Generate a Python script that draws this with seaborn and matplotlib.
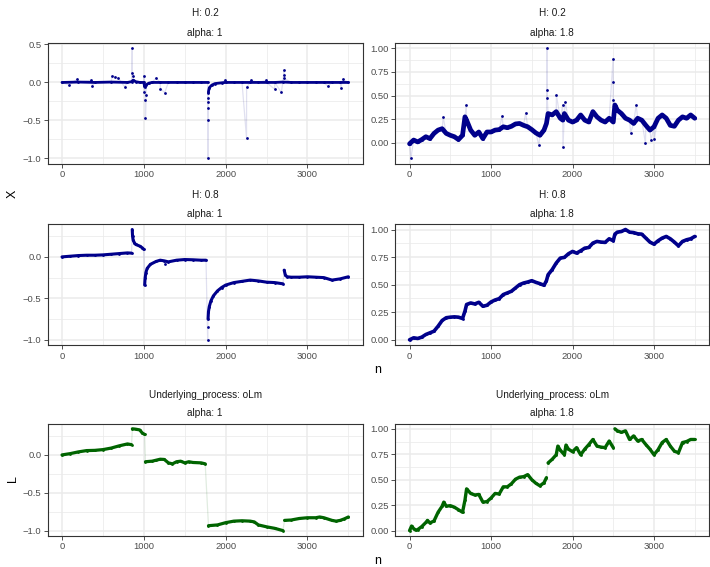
import numpy as np
import pandas as pd
import matplotlib
matplotlib.use("Agg")
import matplotlib.pyplot as plt
import seaborn as sns
from matplotlib.ticker import FuncFormatter, FixedLocator

sns.set_theme(style="white")
plt.rcParams['font.family'] = ['Liberation Sans', 'DejaVu Sans']

BLUE = "#00008B"
GREEN = "#006400"

# ---- H: 0.2, alpha: 1 ----
h02_a1_n = [0, 200, 400, 600, 800, 850, 870, 900, 950, 1000, 1010, 1030, 1060, 1100, 1200,
            1300, 1400, 1500, 1600, 1700, 1780,
            1790, 1800, 1830, 1870, 1950, 2000, 2100, 2200, 2300, 2400, 2500, 2600, 2700,
            2800, 2900, 3000, 3100, 3200, 3300, 3400, 3500]
h02_a1_v = [0.0, 0.005, 0.0, 0.005, 0.0, 0.01, 0.03, 0.01, 0.0, 0.0, -0.06, -0.03, -0.01, 0.0, 0.0,
            0.0, 0.0, 0.0, 0.0, 0.0, 0.0,
            -0.12, -0.07, -0.035, -0.015, -0.005, 0.0, 0.0, 0.0, 0.0, 0.0, 0.0, 0.0, 0.005,
            0.0, 0.0, 0.0, 0.0, 0.0, 0.0, 0.0, 0.0]
h02_a1_breaks = [1785]
h02_a1_out_n = [89, 182, 360, 372, 615, 648, 688, 765, 858, 860, 866, 1000, 1008, 1020, 1020, 1028,
                1150, 1202, 1255, 1785, 1785, 1786, 1787, 1788, 1789, 1992, 2255, 2256, 2304,
                2498, 2599, 2680, 2713, 2714, 2716, 3247, 3409, 3429]
h02_a1_out_v = [-0.035, 0.04, 0.03, -0.045, 0.09, 0.075, 0.057, -0.057, 0.45, 0.13, 0.085, 0.09,
                -0.13, -0.23, -0.47, -0.17, 0.06, -0.08, -0.135, -1.0, -0.5, -0.33, -0.255, -0.21,
                -0.145, 0.03, -0.73, -0.06, 0.03, 0.03, -0.09, -0.13, 0.165, 0.10, 0.055, -0.05,
                -0.07, 0.045]

# ---- H: 0.2, alpha: 1.8 ----
h02_a18_n = [0, 50, 100, 150, 200, 250, 300, 350, 400, 450, 500, 550, 600, 650, 680, 700, 750,
             800, 850, 900, 950, 1000, 1050, 1100, 1150, 1200, 1250, 1300, 1350, 1400, 1450,
             1500, 1550, 1600, 1650, 1680, 1700, 1750, 1800, 1850, 1880, 1900, 1950, 2000,
             2050, 2100, 2150, 2200, 2250, 2300, 2350, 2400, 2450, 2500, 2520, 2550, 2600,
             2650, 2700, 2750, 2800, 2850, 2900, 2950, 3000, 3050, 3100, 3150, 3200, 3250,
             3300, 3350, 3400, 3450, 3500]
h02_a18_v = [-0.01, 0.03, 0.01, 0.035, 0.065, 0.045, 0.10, 0.135, 0.15, 0.10, 0.08, 0.065, 0.035,
             0.08, 0.275, 0.24, 0.135, 0.08, 0.115, 0.045, 0.115, 0.115, 0.135, 0.14, 0.17, 0.16,
             0.175, 0.20, 0.205, 0.185, 0.17, 0.14, 0.105, 0.08, 0.135, 0.205, 0.31, 0.295,
             0.33, 0.26, 0.24, 0.31, 0.24, 0.22, 0.24, 0.295, 0.24, 0.22, 0.33, 0.275, 0.24,
             0.22, 0.26, 0.22, 0.40, 0.345, 0.31, 0.26, 0.24, 0.205, 0.26, 0.24, 0.185, 0.135,
             0.17, 0.26, 0.295, 0.26, 0.185, 0.175, 0.24, 0.275, 0.26, 0.295, 0.26]
h02_a18_breaks = []
h02_a18_out_n = [16, 413, 696, 1134, 1425, 1587, 1688, 1689, 1690, 1802, 1879, 1883, 1911,
                 2498, 2499, 2500, 2713, 2781, 2895, 2964, 3004]
h02_a18_out_v = [-0.165, 0.27, 0.40, 0.28, 0.32, -0.025, 1.0, 0.56, 0.47, 0.505, 0.40, -0.04,
                 0.435, 0.89, 0.645, 0.45, 0.105, 0.40, -0.005, 0.03, 0.045]

# ---- H: 0.8, alpha: 1 ----
h08_a1_n = [0, 100, 200, 300, 400, 500, 600, 700, 800, 850,
            858, 862, 870, 885, 900, 950, 980, 1000,
            1010, 1015, 1025, 1040, 1080, 1150, 1200, 1250, 1300, 1400, 1500, 1600, 1700, 1760,
            1785, 1790, 1800, 1820, 1850, 1900, 1950, 2000, 2100, 2200, 2300, 2400, 2500, 2600, 2700,
            2715, 2730, 2750, 2800, 2900, 3000, 3100, 3200, 3300, 3400, 3500]
h08_a1_v = [0.0, 0.008, 0.016, 0.02, 0.02, 0.024, 0.032, 0.04, 0.048, 0.045,
            0.33, 0.25, 0.20, 0.17, 0.15, 0.13, 0.11, 0.09,
            -0.34, -0.26, -0.19, -0.14, -0.09, -0.055, -0.04, -0.048, -0.06, -0.04, -0.032,
            -0.035, -0.04, -0.04,
            -0.75, -0.66, -0.60, -0.53, -0.47, -0.41, -0.37, -0.34, -0.31, -0.295, -0.28, -0.29,
            -0.305, -0.31, -0.325,
            -0.16, -0.22, -0.24, -0.245, -0.245, -0.24, -0.245, -0.25, -0.28, -0.265, -0.24]
h08_a1_breaks = [855, 1005, 1770, 2710]
h08_a1_out_n = [1255, 1780, 1782]
h08_a1_out_v = [-0.09, -1.0, -0.85]

# ---- H: 0.8, alpha: 1.8 ----
h08_a18_n = [0, 50, 100, 150, 200, 250, 300, 350, 400, 450, 500, 550, 600, 650, 680, 700, 750,
             800, 850, 900, 950, 1000, 1050, 1100, 1150, 1200, 1250, 1300, 1350, 1400, 1450,
             1500, 1550, 1600, 1650, 1680, 1700, 1750, 1800, 1850, 1900, 1950, 2000, 2050,
             2100, 2150, 2200, 2250, 2300, 2350, 2400, 2450, 2500, 2520, 2550, 2600, 2650,
             2700, 2750, 2800, 2850, 2900, 2950, 3000, 3050, 3100, 3150, 3200, 3250, 3300,
             3350, 3400, 3450, 3500]
h08_a18_v = [0.0, 0.018, 0.012, 0.024, 0.048, 0.063, 0.078, 0.123, 0.175, 0.20, 0.205, 0.208,
             0.205, 0.193, 0.26, 0.32, 0.334, 0.325, 0.34, 0.304, 0.313, 0.343, 0.361, 0.373,
             0.41, 0.425, 0.44, 0.47, 0.50, 0.515, 0.524, 0.536, 0.521, 0.509, 0.494, 0.536,
             0.59, 0.636, 0.696, 0.741, 0.747, 0.78, 0.801, 0.786, 0.807, 0.831, 0.837, 0.877,
             0.892, 0.886, 0.883, 0.916, 0.898, 0.958, 0.976, 0.982, 1.0, 0.976, 0.972, 0.961,
             0.958, 0.922, 0.886, 0.867, 0.898, 0.922, 0.937, 0.916, 0.886, 0.852, 0.892,
             0.907, 0.916, 0.937]
h08_a18_breaks = []
h08_a18_out_n = []
h08_a18_out_v = []

# ---- Underlying_process: oLm, alpha: 1 ----
olm_a1_n = [0, 100, 200, 300, 400, 500, 600, 700, 800, 850,
            860, 900, 950, 980, 1010,
            1020, 1100, 1150, 1200, 1250, 1300, 1350, 1400, 1450, 1500, 1550, 1600, 1700, 1750,
            1790, 1900, 2000, 2100, 2200, 2300, 2350, 2400, 2500, 2600, 2700,
            2720, 2800, 2900, 3000, 3100, 3150, 3200, 3300, 3350, 3400, 3450, 3500]
olm_a1_v = [0.0, 0.017, 0.04, 0.057, 0.06, 0.07, 0.09, 0.12, 0.145, 0.135,
            0.345, 0.34, 0.33, 0.29, 0.27,
            -0.09, -0.083, -0.07, -0.057, -0.06, -0.105, -0.118, -0.09, -0.083, -0.105, -0.09,
            -0.10, -0.105, -0.118,
            -0.935, -0.925, -0.895, -0.875, -0.87, -0.875, -0.885, -0.925, -0.95, -0.97, -1.0,
            -0.865, -0.86, -0.84, -0.83, -0.83, -0.82, -0.83, -0.865, -0.875, -0.865, -0.845, -0.82]
olm_a1_breaks = [855, 1015, 1770, 2710]

# ---- Underlying_process: oLm, alpha: 1.8 ----
olm_a18_n = [0, 25, 50, 75, 100, 150, 200, 220, 250, 300, 350, 400, 420, 450, 500, 550, 600,
             650, 680, 700, 750, 800, 850, 900, 950, 1000, 1050, 1100, 1150, 1200, 1250, 1300,
             1350, 1400, 1450, 1500, 1550, 1600, 1650, 1680,
             1700, 1750, 1800, 1820, 1850, 1900, 1920, 1950, 2000, 2050, 2100, 2150, 2200,
             2250, 2300, 2350, 2400, 2450, 2500,
             2520, 2550, 2600, 2650, 2700, 2750, 2800, 2850, 2900, 2950, 3000, 3050, 3100,
             3150, 3200, 3250, 3300, 3350, 3400, 3450, 3500]
olm_a18_v = [0.0, 0.045, 0.02, 0.005, 0.01, 0.04, 0.08, 0.10, 0.075, 0.095, 0.18, 0.24, 0.28,
             0.24, 0.245, 0.23, 0.205, 0.18, 0.30, 0.41, 0.365, 0.35, 0.355, 0.28, 0.285, 0.32,
             0.365, 0.36, 0.43, 0.43, 0.46, 0.505, 0.525, 0.53, 0.55, 0.50, 0.465, 0.44, 0.47,
             0.52,
             0.665, 0.70, 0.745, 0.83, 0.79, 0.745, 0.84, 0.80, 0.775, 0.815, 0.745, 0.80,
             0.845, 0.895, 0.83, 0.82, 0.815, 0.88, 0.815,
             1.0, 0.98, 0.965, 0.98, 0.895, 0.93, 0.88, 0.895, 0.845, 0.80, 0.745, 0.795,
             0.865, 0.895, 0.83, 0.78, 0.765, 0.865, 0.875, 0.895, 0.895]
olm_a18_breaks = [1690, 2510]


def minus(v, fmt):
    return (fmt % v).replace('-', '\u2212')


def draw_panel(ax, n, v, breaks, out_n, out_v, color, lw, yticks, fmt):
    body = pd.DataFrame({'n': n, 'v': v})
    body['seg'] = np.searchsorted(breaks, body['n']) if breaks else 0
    extra = pd.DataFrame({'n': out_n, 'v': out_v}, dtype=float)
    pts = pd.concat([body[['n', 'v']], extra]).sort_values('n', kind='stable')

    # faint connecting line through every point, thick body, then the dots
    sns.lineplot(data=pts, x='n', y='v', color=color, alpha=0.12, lw=0.9,
                 sort=False, estimator=None, ax=ax)
    sns.lineplot(data=body, x='n', y='v', units='seg', estimator=None, color=color,
                 lw=lw, ax=ax)
    sns.scatterplot(data=pts, x='n', y='v', color=color, s=4, linewidth=0, ax=ax)

    ax.set_xlabel('')
    ax.set_ylabel('')
    ax.set_facecolor('white')
    ax.xaxis.set_major_locator(FixedLocator([0, 1000, 2000, 3000]))
    ax.xaxis.set_minor_locator(FixedLocator([500, 1500, 2500, 3500]))
    step = yticks[1] - yticks[0]
    ax.yaxis.set_major_locator(FixedLocator(yticks))
    ax.yaxis.set_minor_locator(FixedLocator(np.arange(yticks[0] - step / 2, yticks[-1] + step, step)))
    ax.xaxis.set_major_formatter(FuncFormatter(lambda x, p: '%d' % x))
    ax.yaxis.set_major_formatter(FuncFormatter(lambda x, p: minus(x, fmt)))
    ax.grid(which='major', color='#EBEBEB', lw=1.1)
    ax.grid(which='minor', color='#EBEBEB', lw=0.55)
    ax.set_axisbelow(True)
    ax.tick_params(which='major', length=2.6, width=0.6, color='#333333', labelsize=6.8,
                   labelcolor='#4D4D4D', pad=2, bottom=True, left=True)
    ax.tick_params(which='minor', length=0)
    for s in ax.spines.values():
        s.set_color('#333333')
        s.set_linewidth(0.8)
    ax.margins(x=0.05, y=0.05)


W, H = 710, 567
fig = plt.figure(figsize=(W / 100, H / 100), dpi=100)


def add_ax(x0, x1, y0, y1):
    return fig.add_axes([x0 / W, 1 - y1 / H, (x1 - x0) / W, (y1 - y0) / H])


cols = [(47.7, 362.7), (395.3, 709)]
rows = [(42.7, 164), (224, 345.3), (423.7, 535.7)]

ax = add_ax(*cols[0], *rows[0])
draw_panel(ax, h02_a1_n, h02_a1_v, h02_a1_breaks, h02_a1_out_n, h02_a1_out_v, BLUE, 2.0,
           [-1.0, -0.5, 0.0, 0.5], '%.1f')
ax = add_ax(*cols[1], *rows[0])
draw_panel(ax, h02_a18_n, h02_a18_v, h02_a18_breaks, h02_a18_out_n, h02_a18_out_v, BLUE, 3.4,
           [0.0, 0.25, 0.5, 0.75, 1.0], '%.2f')
ax = add_ax(*cols[0], *rows[1])
draw_panel(ax, h08_a1_n, h08_a1_v, h08_a1_breaks, h08_a1_out_n, h08_a1_out_v, BLUE, 2.2,
           [-1.0, -0.5, 0.0], '%.1f')
ax = add_ax(*cols[1], *rows[1])
draw_panel(ax, h08_a18_n, h08_a18_v, h08_a18_breaks, h08_a18_out_n, h08_a18_out_v, BLUE, 2.6,
           [0.0, 0.25, 0.5, 0.75, 1.0], '%.2f')
ax = add_ax(*cols[0], *rows[2])
draw_panel(ax, olm_a1_n, olm_a1_v, olm_a1_breaks, [], [], GREEN, 2.3,
           [-1.0, -0.5, 0.0], '%.1f')
ax = add_ax(*cols[1], *rows[2])
draw_panel(ax, olm_a18_n, olm_a18_v, olm_a18_breaks, [], [], GREEN, 2.4,
           [0.0, 0.25, 0.5, 0.75, 1.0], '%.2f')

# strip labels
strip = dict(ha='center', va='center', fontsize=7.2, color='#1A1A1A')
centers = [(c[0] + c[1]) / 2 for c in cols]
for cx, a in zip(centers, ['1', '1.8']):
    fig.text(cx / W, 1 - 12.7 / H, 'H: 0.2', **strip)
    fig.text(cx / W, 1 - 32.7 / H, 'alpha: ' + a, **strip)
    fig.text(cx / W, 1 - 195 / H, 'H: 0.8', **strip)
    fig.text(cx / W, 1 - 214.3 / H, 'alpha: ' + a, **strip)
    fig.text(cx / W, 1 - 395 / H, 'Underlying_process: oLm', **strip)
    fig.text(cx / W, 1 - 413.3 / H, 'alpha: ' + a, **strip)

# axis titles
title = dict(ha='center', va='center', fontsize=9, color='black')
fig.text(12.7 / W, 1 - 194 / H, 'X', rotation=90, **title)
fig.text(378 / W, 1 - 370 / H, 'n', **title)
fig.text(13 / W, 1 - 479 / H, 'L', rotation=90, **title)
fig.text(378 / W, 1 - 561.5 / H, 'n', **title)

fig.savefig('out.png', dpi=100, facecolor='white')
